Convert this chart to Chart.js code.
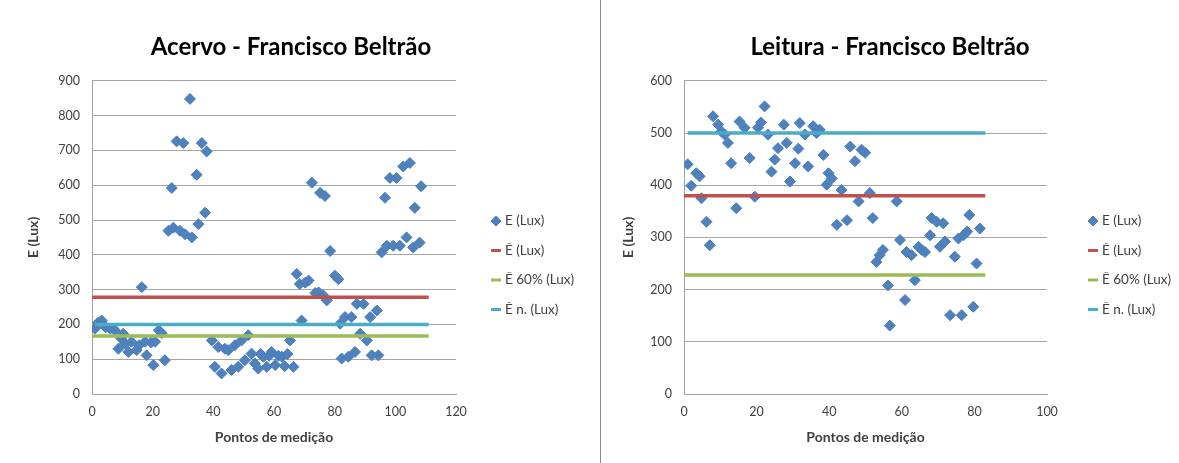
<!DOCTYPE html>
<html lang="pt">
<head>
<meta charset="utf-8">
<title>Acervo e Leitura - Francisco Beltrão</title>
<script src="https://cdn.jsdelivr.net/npm/chart.js"></script>
<style>
    body { margin: 0; background: #fff; }
    .painel { position: absolute; top: 0; height: 463px; }
    #painelAcervo { left: 0; width: 600px; }
    #divisoria { position: absolute; left: 600px; top: 0; width: 1px; height: 463px; background: #8c8c8c; }
    #painelLeitura { left: 601px; width: 578px; }
</style>
</head>
<body>
<div class="painel" id="painelAcervo"><canvas id="graficoAcervo"></canvas></div>
<div id="divisoria"></div>
<div class="painel" id="painelLeitura"><canvas id="graficoLeitura"></canvas></div>

<script>
// legenda das series (mesma nos dois graficos)
const serieLabels = ['E (Lux)', 'Ē (Lux)', 'Ē 60% (Lux)', 'Ē n. (Lux)'];
const corPontos = '#4f81bd';
const coresLinhas = ['#c0504d', '#9bbb59', '#4bacc6'];

// Acervo - pontos de medicao
const acervoX = [1, 2, 3.2, 4.5, 6, 7.6, 8.7, 9.6, 10.3, 10.9, 12, 13, 14.7, 15.5, 16.4, 17.5, 18, 19.5, 20.2, 20.8,
    22, 23, 24, 25.2, 26.3, 26.8, 27.9, 29, 30.1, 30.7, 32.3, 32.9, 34.5, 35.1, 36.2, 37.3, 37.8, 39.5, 40.5, 41.6,
    42.7, 43.8, 44.9, 46, 47.1, 48.2, 49.3, 50.4, 51.5, 52.6, 53.7, 54.8, 55.6, 56.5, 57.6, 58.4, 59.2, 60.4, 61.5, 62.6,
    63.5, 64.4, 65.3, 66.4, 67.5, 68.5, 69.1, 70.3, 71.4, 72.5, 73.6, 74.7, 75.2, 76.3, 76.8, 77.4, 78.5, 80.1, 81.2, 81.8,
    82.3, 83.4, 84.5, 85.5, 86.7, 87.3, 88.4, 89.5, 90.6, 91.7, 92.2, 93.9, 94.4, 95.5, 96.6, 97.2, 98.2, 99.3, 100.4, 101.5,
    102.6, 103.7, 104.8, 105.9, 106.4, 108, 108.5];
const acervoY = [188, 205, 211, 192, 188, 183, 130, 160, 173, 145, 121, 150, 126, 140, 307, 150, 111, 148, 83, 150,
    183, 175, 97, 469, 592, 478, 726, 469, 721, 459, 848, 450, 630, 488, 721, 521, 697, 154, 78, 135,
    59, 130, 126, 69, 140, 78, 154, 97, 169, 116, 88, 73, 115, 107, 78, 110, 121, 83, 110, 107,
    80, 115, 154, 78, 345, 316, 211, 320, 326, 607, 290, 292, 578, 283, 569, 269, 411, 340, 330, 202,
    102, 221, 107, 221, 121, 259, 173, 259, 154, 221, 111, 240, 111, 407, 564, 426, 621, 426, 621, 426,
    654, 450, 664, 421, 535, 435, 597];
// media, 60% da media, valor da norma
const acervoLinhas = [278, 167, 200];
const acervoInicio = [0, 0, 1];
const acervoFim = [111, 111, 111];

// Leitura - pontos de medicao
const leituraX = [1, 2, 3.4, 4.3, 4.8, 6.2, 7.1, 8, 9.4, 10.3, 11.2, 12.1, 13, 14.4, 15.3, 16.7, 18.1, 19.5, 20.4, 21.2,
    22.2, 23.1, 24.1, 25, 25.9, 27.5, 28.3, 29.2, 30.6, 31.5, 31.9, 33.3, 34.2, 35.6, 36.5, 37.4, 38.4, 39.3, 39.8, 40.7,
    42.1, 43.4, 44.9, 45.8, 47.1, 48.1, 48.9, 49.9, 51.2, 52, 53, 53.9, 54.8, 56.2, 56.7, 58.6, 59.5, 60.9, 61.3, 62.7,
    63.6, 64.6, 65.5, 66.4, 67.8, 68.2, 69.6, 70.5, 71.4, 71.9, 73.3, 74.6, 75.6, 76.5, 77, 78, 78.6, 79.7, 80.6, 81.5];
const leituraY = [440, 399, 423, 417, 375, 330, 285, 532, 516, 503, 497, 481, 442, 356, 522, 510, 452, 378, 510, 520,
    551, 497, 426, 449, 471, 516, 481, 407, 442, 470, 519, 497, 436, 513, 500, 506, 458, 401, 423, 413,
    324, 391, 333, 474, 446, 369, 468, 462, 385, 337, 253, 266, 276, 208, 131, 369, 295, 180, 272, 266,
    218, 282, 276, 272, 304, 337, 330, 282, 327, 292, 151, 263, 298, 151, 304, 311, 343, 167, 250, 317];
const leituraLinhas = [380, 228, 500];
const leituraInicio = [0, 0, 1];
const leituraFim = [83, 83, 83];

Chart.defaults.font.family = 'Lato, "Open Sans", sans-serif';
Chart.defaults.color = '#404040';

// legenda desenhada ao lado do grafico, no estilo do Excel
const legendaLateral = {
    id: 'legendaLateral',
    afterDraw(chart, args, opts) {
        const ctx = chart.ctx;
        ctx.save();
        ctx.font = '13.5px Lato, "Open Sans", sans-serif';
        ctx.textBaseline = 'middle';
        chart.data.datasets.forEach((ds, i) => {
            const y = opts.y + i * opts.gap;
            if (ds.showLine) {
                ctx.strokeStyle = ds.borderColor;
                ctx.lineWidth = 3;
                ctx.beginPath();
                ctx.moveTo(opts.x - 5, y);
                ctx.lineTo(opts.x + 5, y);
                ctx.stroke();
            } else {
                ctx.fillStyle = ds.backgroundColor;
                ctx.strokeStyle = ds.borderColor;
                ctx.lineWidth = 1;
                Chart.helpers.drawPoint(ctx, { pointStyle: 'rectRot', radius: 5, borderWidth: 1 }, opts.x, y);
            }
            ctx.fillStyle = '#404040';
            ctx.fillText(ds.label, opts.x + 9, y);
        });
        ctx.restore();
    }
};

function criarGrafico(id, cfg) {
    const pontos = cfg.xs.map((x, i) => ({ x: x, y: cfg.ys[i] }));
    const datasets = [{
        label: serieLabels[0],
        data: pontos,
        pointStyle: 'rectRot',
        pointRadius: 5.5,
        backgroundColor: corPontos,
        borderColor: '#4a7ebb',
        borderWidth: 1,
        order: 2
    }];
    cfg.linhas.forEach((v, i) => {
        datasets.push({
            label: serieLabels[i + 1],
            data: [{ x: cfg.inicio[i], y: v }, { x: cfg.fim[i], y: v }],
            showLine: true,
            pointRadius: 0,
            borderColor: coresLinhas[i],
            backgroundColor: coresLinhas[i],
            borderWidth: 3.5,
            order: 1
        });
    });

    return new Chart(document.getElementById(id), {
        type: 'scatter',
        data: { datasets: datasets },
        plugins: [legendaLateral],
        options: {
            responsive: true,
            maintainAspectRatio: false,
            animation: false,
            layout: { padding: { left: 0, right: cfg.padDireita, top: 0, bottom: 0 } },
            plugins: {
                legend: { display: false },
                tooltip: { enabled: false },
                title: {
                    display: true,
                    text: cfg.titulo,
                    color: '#000',
                    font: { size: 24, weight: 'bold' },
                    padding: { top: 33, bottom: 19 }
                },
                legendaLateral: cfg.legenda
            },
            scales: {
                x: {
                    type: 'linear',
                    min: 0,
                    max: cfg.xMax,
                    ticks: { stepSize: 20, padding: 10, font: { size: 12.5 } },
                    grid: { display: false, drawTicks: false },
                    border: { color: '#a0a0a0' },
                    title: {
                        display: true,
                        text: 'Pontos de medição',
                        font: { size: 14, weight: 'bold' },
                        padding: { top: 0, bottom: 17 }
                    },
                    afterFit(s) { s.height = 69; }
                },
                y: {
                    min: 0,
                    max: cfg.yMax,
                    ticks: { stepSize: 100, padding: 12, font: { size: 12.5 } },
                    grid: { color: '#a6a6a6', drawTicks: false },
                    border: { color: '#a0a0a0' },
                    title: {
                        display: true,
                        text: 'E (Lux)',
                        font: { size: 14, weight: 'bold' },
                        padding: { top: cfg.yTituloPad, bottom: 0 }
                    },
                    afterFit(s) { s.width = cfg.yLargura; }
                },
                // espaco reservado para a legenda
                espaco: {
                    type: 'linear',
                    position: 'right',
                    display: true,
                    grid: { display: false },
                    ticks: { display: false },
                    border: { display: false },
                    afterFit(s) { s.width = cfg.espacoLegenda; }
                }
            }
        }
    });
}

criarGrafico('graficoAcervo', {
    titulo: 'Acervo - Francisco Beltrão',
    xs: acervoX, ys: acervoY,
    linhas: acervoLinhas, inicio: acervoInicio, fim: acervoFim,
    xMax: 120, yMax: 900,
    yLargura: 92, yTituloPad: 25,
    padDireita: 18, espacoLegenda: 126,
    legenda: { x: 496, y: 221, gap: 29.5 }
});

criarGrafico('graficoLeitura', {
    titulo: 'Leitura - Francisco Beltrão',
    xs: leituraX, ys: leituraY,
    linhas: leituraLinhas, inicio: leituraInicio, fim: leituraFim,
    xMax: 100, yMax: 600,
    yLargura: 83, yTituloPad: 19,
    padDireita: 0, espacoLegenda: 132,
    legenda: { x: 492, y: 221, gap: 29.5 }
});
</script>
</body>
</html>
